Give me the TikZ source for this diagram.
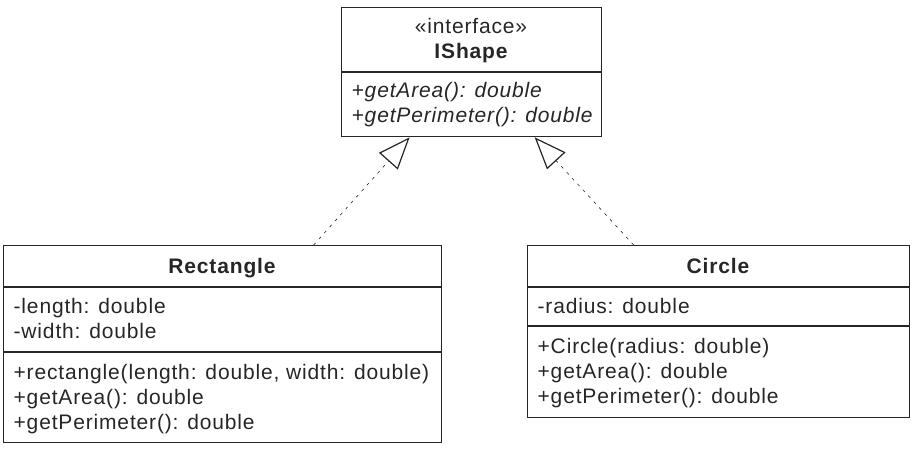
\documentclass[tikz,border=0pt]{standalone}
\usepackage{fontspec}
\setmainfont[LetterSpace=4]{Liberation Sans}
\usetikzlibrary{arrows.meta}
\begin{document}
\begin{tikzpicture}[x=1pt, y=-1pt, line width=1.3pt, font=\fontsize{21}{25}\selectfont,
    classbox/.style={draw=black!85, anchor=north west, inner sep=0},
    member/.style={anchor=base west, inner sep=0, text=black!85},
    classname/.style={anchor=base, inner sep=0, text=black!85, font=\fontsize{21}{25}\selectfont\bfseries},
    realize/.style={draw=black!85, line width=.6pt, dash pattern=on 3pt off 5pt,
        -{Triangle[open, length=32pt, width=25pt, line width=1.2pt]}}]
    \useasboundingbox (0,0) rectangle (915,450);
    % interface
    \node (ishape) [classbox, minimum width=260pt, minimum height=129pt] at (341,7) {};
    \node (stereo) [classname, font=\fontsize{21}{25}\selectfont] at (471,33) {«interface»};
    \node (ishapename) [classname] at (471,58) {IShape};
    \draw[black!85] (ishape.west |- 0,72) -- (ishape.east |- 0,72);
    \node (iarea) [member] at (351,97) {\itshape +getArea(): double};
    \node (iperim) [member] at (351,122) {\itshape +getPerimeter(): double};
    % rectangle
    \node (rect) [classbox, minimum width=438pt, minimum height=197pt] at (3,245) {};
    \node (rectname) [classname] at (222,273) {Rectangle};
    \draw[black!85] (rect.west |- 0,287) -- (rect.east |- 0,287);
    \node (rlength) [member] at (13,313) {-length: double};
    \node (rwidth) [member] at (13,338) {-width: double};
    \draw[black!85] (rect.west |- 0,352) -- (rect.east |- 0,352);
    \node (rctor) [member] at (13,379) {+rectangle(length: double, width: double)};
    \node (rarea) [member] at (13,404) {+getArea(): double};
    \node (rperim) [member] at (13,429) {+getPerimeter(): double};
    % circle
    \node (circ) [classbox, minimum width=382pt, minimum height=172pt] at (527,245) {};
    \node (circname) [classname] at (718,273) {Circle};
    \draw[black!85] (circ.west |- 0,287) -- (circ.east |- 0,287);
    \node (cradius) [member] at (537,313) {-radius: double};
    \draw[black!85] (circ.west |- 0,326) -- (circ.east |- 0,326);
    \node (cctor) [member] at (537,353) {+Circle(radius: double)};
    \node (carea) [member] at (537,378) {+getArea(): double};
    \node (cperim) [member] at (537,403) {+getPerimeter(): double};
    % realizations
    \draw[realize] ([xshift=91pt]rect.north) -- ([xshift=-62pt]ishape.south);
    \draw[realize] ([xshift=-85pt]circ.north) -- ([xshift=63pt]ishape.south);
\end{tikzpicture}
\end{document}
